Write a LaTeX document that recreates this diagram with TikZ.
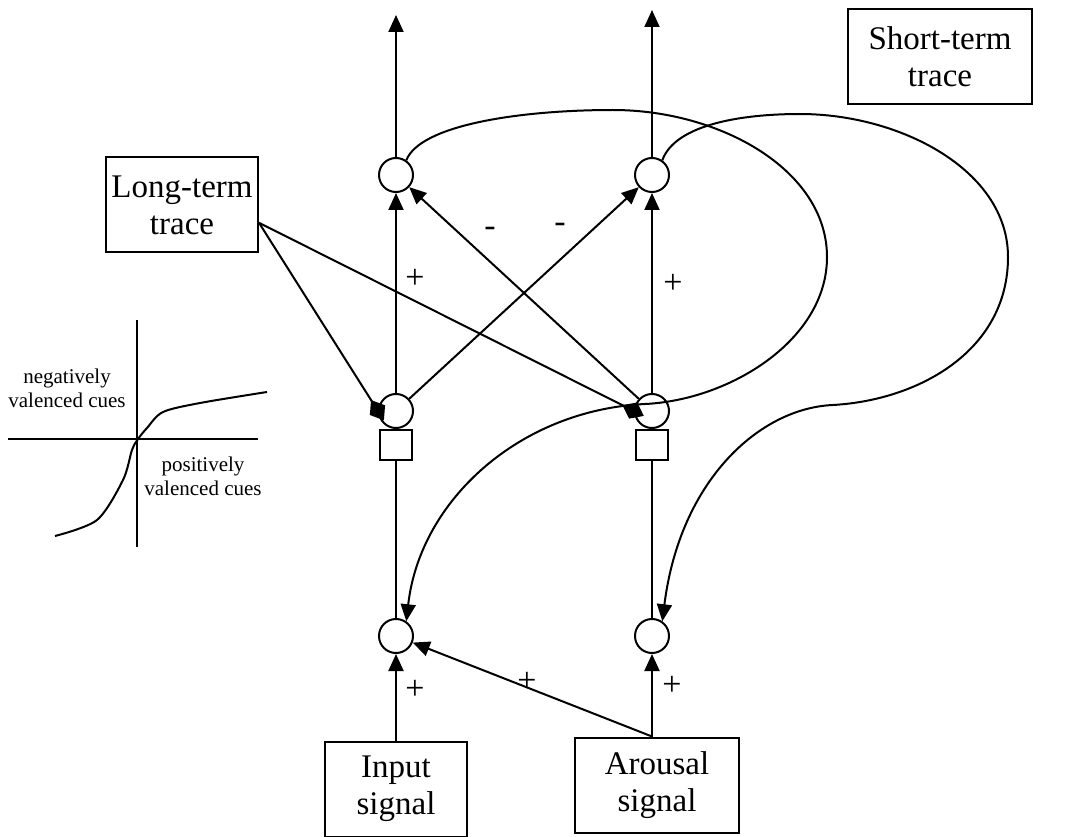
\documentclass[tikz,border=0pt]{standalone}
\usepackage{fontspec}
\setmainfont{Liberation Serif}
\usetikzlibrary{arrows.meta,positioning}

\tikzset{
  unit/.style={circle,draw,line width=2pt,minimum size=34pt,inner sep=0pt},
  gate/.style={rectangle,draw,line width=2pt,minimum width=32pt,minimum height=30pt,inner sep=0pt},
  signalbox/.style={rectangle,draw,line width=2pt,minimum height=95pt,align=center,
    font=\fontsize{33}{37}\selectfont},
  link/.style={line width=2pt,-{Triangle[length=17pt,width=15pt]}},
  tracelink/.style={line width=2pt,-{Diamond[length=24pt,width=18pt]},shorten >=-11pt},
  sign/.style={font=\fontsize{34}{34}\selectfont,inner sep=0pt},
  cue/.style={align=center,font=\fontsize{21}{24}\selectfont}
}

\begin{document}
\begin{tikzpicture}[x=1pt,y=-1pt]
\useasboundingbox (0,0) rectangle (1085,837);

% boxes
\node[signalbox,minimum width=152pt] (ltt) at (182,205) {Long-term\\trace};
\node[signalbox,minimum width=184pt] (stt) at (940,57) {Short-term\\trace};
\node[signalbox,minimum width=142pt] (inp) at (396,789) {Input\\signal};
\node[signalbox,minimum width=164pt] (aro) at (657,785) {Arousal\\signal};

% units
\node[unit] (tl) at (396,175) {};
\node[unit] (tr) at (652,175) {};
\node[unit] (ml) at (396,411) {};
\node[unit] (mr) at (652,411) {};
\node[unit] (bl) at (396,636) {};
\node[unit] (br) at (652,636) {};
\node[gate,below=0pt of ml] (gl) {};
\node[gate,below=0pt of mr] (gr) {};
\coordinate (outl) at (396,15);
\coordinate (outr) at (652,10);

% connections
\draw[link] (tl) -- (outl);
\draw[link] (tr) -- (outr);
\draw[link] (ml) -- (tl);
\draw[link] (mr) -- (tr);
\draw[link] (ml) -- (tr);
\draw[link] (mr) -- (tl);
\draw[tracelink] (ltt.-13) -- (ml.west);
\draw[tracelink] (ltt.-13) -- (mr.west);
\draw[line width=2pt] (gl) -- (bl);
\draw[line width=2pt] (gr) -- (br);
\draw[link] (inp) -- (bl);
\draw[link] (aro.north -| br) -- (bl);
\draw[link] (aro.north -| br) -- (br);

% feedback loops
\draw[link] (tl.55) .. controls (420,125) and (520,110) .. (613,110)
  .. controls (720,110) and (827,170) .. (827,257)
  .. controls (827,340) and (730,400) .. (645,404)
  .. controls (520,410) and (420,500) .. (bl.55);
\draw[link] (tr.55) .. controls (675,125) and (740,114) .. (800,114)
  .. controls (900,114) and (1008,170) .. (1008,257)
  .. controls (1008,350) and (920,400) .. (833,405)
  .. controls (760,408) and (680,480) .. (br.55);

% signs
\node[sign] (p1) at (415,279) {+};
\node[sign] (p2) at (673,284) {+};
\node[sign] (m1) at (490,232) {-};
\node[sign] (m2) at (560,228) {-};
\node[sign] (p3) at (415,690) {+};
\node[sign] (p4) at (527,682) {+};
\node[sign] (p5) at (672,686) {+};

% inset
\draw[line width=2pt] (137,320) -- (137,547);
\draw[line width=2pt] (8,439) -- (258,439);
\draw[line width=2pt] plot[smooth] coordinates {(55,536) (97,520) (123,480) (132,450)
  (138,439) (147,428) (163,412) (200,403) (267,392)};
\node[cue] (neg) at (67,388) {negatively\\valenced cues};
\node[cue] (pos) at (203,476) {positively\\valenced cues};
\end{tikzpicture}
\end{document}
